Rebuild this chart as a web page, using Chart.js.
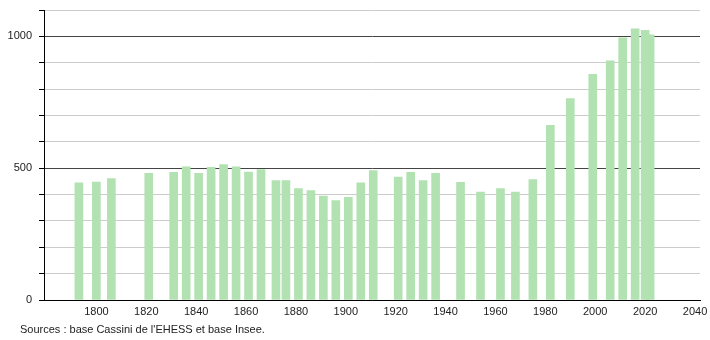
<!DOCTYPE html>
<html>
<head>
<meta charset="utf-8">
<script src="https://cdn.jsdelivr.net/npm/chart.js@4.4.0/dist/chart.umd.min.js"></script>
<style>
  html, body { margin: 0; padding: 0; background: #fff; }
  #wrap { position: relative; width: 710px; height: 340px; }
  #source {
    position: absolute; left: 20px; top: 323px;
    font: 11px "Liberation Sans", Arial, sans-serif; color: #222;
  }
</style>
</head>
<body>
<div id="wrap">
  <canvas id="popChart" width="710" height="340"></canvas>
  <div id="source">Sources : base Cassini de l'EHESS et base Insee.</div>
</div>
<script>
// Census years and population
const years = [1793, 1800, 1806, 1821, 1831, 1836, 1841, 1846, 1851, 1856,
               1861, 1866, 1872, 1876, 1881, 1886, 1891, 1896, 1901, 1906,
               1911, 1921, 1926, 1931, 1936, 1946, 1954, 1962, 1968, 1975,
               1982, 1990, 1999, 2006, 2011, 2016, 2020, 2022];
const population = [444, 447, 461, 480, 484, 505, 480, 503, 514, 505,
                    485, 495, 453, 453, 423, 415, 394, 377, 389, 444,
                    491, 466, 484, 453, 480, 446, 409, 423, 409, 457,
                    663, 764, 856, 907, 994, 1029, 1023, 1006];

const xTickYears = [1800, 1820, 1840, 1860, 1880, 1900, 1920, 1940, 1960, 1980, 2000, 2020, 2040];
const xMin = 1779;
const xMax = 2042;
const yMax = 1100;
const yLabelStep = 500;

const FONT = '"Liberation Sans", Arial, sans-serif';
const BAR_COLOR = 'rgb(178, 226, 178)';

const points = years.map((yr, i) => ({ x: yr, y: population[i] }));

new Chart(document.getElementById('popChart').getContext('2d'), {
  type: 'bar',
  data: {
    datasets: [{
      label: 'population',
      data: points,
      backgroundColor: BAR_COLOR,
      borderWidth: 0,
      barThickness: 8
    }]
  },
  options: {
    responsive: false,
    animation: false,
    layout: { padding: { left: 0, right: 10, top: 10, bottom: 10 } },
    plugins: {
      legend: { display: false },
      tooltip: { enabled: false }
    },
    scales: {
      x: {
        type: 'linear',
        min: xMin,
        max: xMax,
        offset: false,
        // only the round 20-year ticks, never the min/max ends
        afterBuildTicks: (scale) => {
          scale.ticks = xTickYears.map(v => ({ value: v }));
        },
        afterFit: (scale) => {
          scale.height = 30;
          scale.paddingLeft = 0;
          scale.paddingRight = 0;
        },
        grid: { display: false, drawTicks: false, offset: false },
        border: { display: true, color: '#000', width: 1 },
        ticks: {
          padding: 5,
          autoSkip: false,
          maxRotation: 0,
          color: '#222',
          font: { size: 11, family: FONT },
          callback: (v) => String(v)
        }
      },
      y: {
        min: 0,
        max: yMax,
        afterFit: (scale) => {
          scale.width = 44;
          scale.paddingTop = 0;
          scale.paddingBottom = 0;
        },
        grid: {
          color: (ctx) => (ctx.tick && ctx.tick.value % yLabelStep === 0) ? '#444' : '#ccc',
          lineWidth: 1,
          drawTicks: true,
          tickLength: 5,
          tickColor: '#000'
        },
        border: { display: true, color: '#000', width: 1 },
        ticks: {
          stepSize: 100,
          padding: 7,
          color: '#222',
          font: { size: 11, family: FONT },
          callback: (v) => (v % yLabelStep === 0 ? String(v) : '')
        }
      }
    }
  }
});
</script>
</body>
</html>
